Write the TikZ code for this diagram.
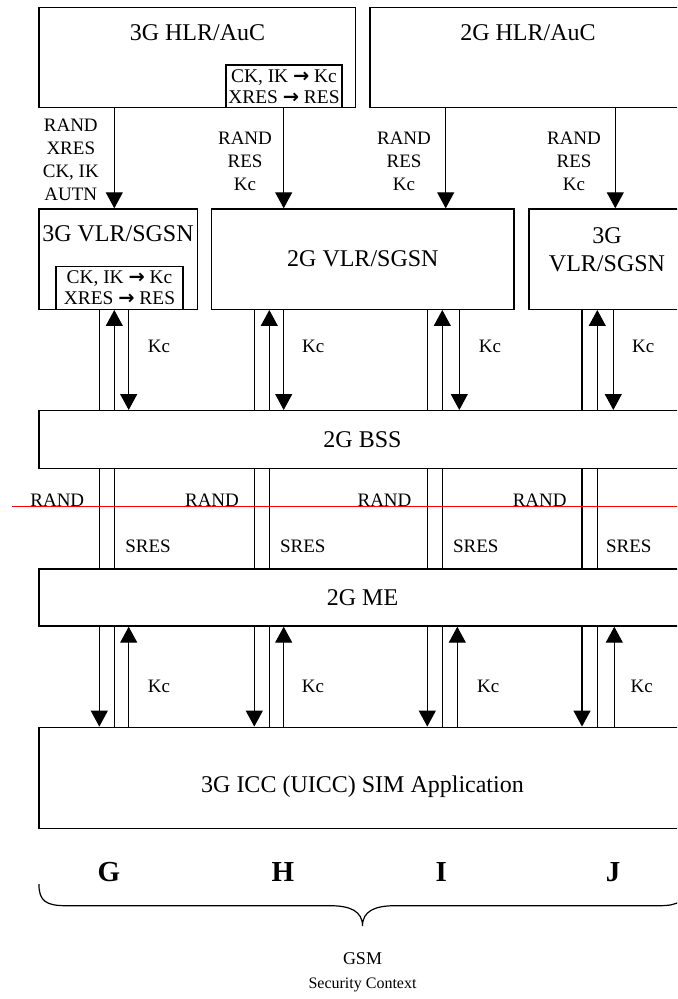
\documentclass[tikz,border=0pt]{standalone}
\usepackage{fontspec}
\setmainfont{Liberation Serif}
\newfontfamily\arrfont{DejaVu Sans}
\usetikzlibrary{arrows.meta}
\begin{document}
\begin{tikzpicture}[x=0.5pt,y=-0.5pt,
  box/.style={draw, line width=0.7pt, inner sep=0pt, rectangle, align=center, font=\fontsize{12}{13.8}\selectfont},
  inbox/.style={draw, line width=0.7pt, inner sep=0pt, rectangle, align=center, font=\fontsize{9.7}{10.5}\selectfont},
  lbl/.style={inner sep=0pt, font=\fontsize{9.5}{11.5}\selectfont, align=center},
  big/.style={inner sep=0pt, font=\fontsize{12}{13.8}\selectfont, align=center},
  letter/.style={inner sep=0pt, font=\fontsize{14.5}{16}\selectfont\bfseries},
  ln/.style={line width=0.6pt},
  arr/.style={line width=0.6pt, -{Triangle[width=8.5pt,length=8pt]}},
]
\useasboundingbox (0,0) rectangle (677,999);
\clip (0,0) rectangle (677,999);

% ---- boxes
\node[box, minimum width=158.35pt, minimum height=50.2pt] (hlr3) at (197.35,57.5) {};
\node[big] (thlr3) at (197.5,33) {3G HLR/AuC};
\node[inbox, minimum width=58pt, minimum height=21.35pt] (hlrin) at (284,86.35) {CK, IK {\arrfont\bfseries→} Kc\\XRES {\arrfont\bfseries→} RES};
\node[box, minimum width=158pt, minimum height=50.2pt] (hlr2) at (528,57.5) {};
\node[big] (thlr2) at (528,33) {2G HLR/AuC};

\node[box, minimum width=79.35pt, minimum height=50.15pt] (vlr3) at (118.35,259.15) {};
\node[big] (tvlr3) at (118,234) {3G VLR/SGSN};
\node[inbox, minimum width=63.5pt, minimum height=21.3pt] (vlrin) at (119.5,288) {CK, IK {\arrfont\bfseries→} Kc\\XRES {\arrfont\bfseries→} RES};
\node[box, minimum width=151.15pt, minimum height=50.15pt] (vlr2) at (362.85,259.15) {2G VLR/SGSN};
\node[box, minimum width=78.5pt, minimum height=50.15pt] (vlr3b) at (607.5,259.15) {};
\node[big] (tvlr3b) at (607,249.5) {3G\\VLR/SGSN};

\node[box, minimum width=323.5pt, minimum height=28.8pt] (bss) at (362.5,439.5) {2G BSS};
\node[box, minimum width=323.5pt, minimum height=28.5pt] (me) at (362.5,597.5) {2G ME};
\node[box, minimum width=323.5pt, minimum height=50.5pt] (icc) at (362.5,777.8) {};
\node[big] (ticc) at (362.5,787) {3G ICC (UICC) SIM Application};

% ---- top arrows
\draw[arr] (hlr3.south -| 114.3,0) -- (vlr3.north -| 114.3,0);
\draw[arr] (hlrin.south -| 283.7,0) -- (vlr2.north -| 283.7,0);
\draw[arr] (hlr2.south -| 445.7,0) -- (vlr2.north -| 445.7,0);
\draw[arr] (hlr2.south -| 615.3,0) -- (vlr3b.north -| 615.3,0);

\node[lbl] (l1) at (70.8,160) {RAND\\XRES\\CK, IK\\AUTN};
\node[lbl] (l2) at (245,161.7) {RAND\\RES\\Kc};
\node[lbl] (l3) at (404,161.7) {RAND\\RES\\Kc};
\node[lbl] (l4) at (574,161.7) {RAND\\RES\\Kc};

% ---- vertical groups
\foreach \a/\b/\c/\d/\v in {99.3/114.3/128.7/128.7/vlr3, 254.3/269.3/283.7/283.7/vlr2, 427.3/442.3/459.3/457.3/vlr2, 582/597.3/613.3/614.3/vlr3b}{
  \draw[ln] (\v.south -| \a,0) -- (bss.north -| \a,0);
  \draw[arr] (bss.north -| \b,0) -- (\v.south -| \b,0);
  \draw[arr] (\v.south -| \c,0) -- (bss.north -| \c,0);
  \draw[ln] (bss.south -| \a,0) -- (me.north -| \a,0);
  \draw[ln] (bss.south -| \b,0) -- (me.north -| \b,0);
  \draw[arr] (me.south -| \a,0) -- (icc.north -| \a,0);
  \draw[ln] (me.south -| \b,0) -- (icc.north -| \b,0);
  \draw[arr] (icc.north -| \d,0) -- (me.south -| \d,0);
}

% ---- labels
\foreach \x [count=\i] in {159,313.3,490,643.3}{ \node[lbl] (kcu\i) at (\x,346.7) {Kc}; }
\foreach \x [count=\i] in {159,313,488.3,641.7}{ \node[lbl] (kcl\i) at (\x,686) {Kc}; }
\foreach \x [count=\i] in {57.3,212,384.5,539.7}{ \node[lbl] (rand\i) at (\x,500) {RAND}; }
\foreach \x [count=\i] in {148,302.8,475.8,628.8}{ \node[lbl] (sres\i) at (\x,546.7) {SRES}; }

% ---- red line
\draw[red, line width=0.75pt] (12.3,506.7) -- (690,506.7);

% ---- letters and brace
\node[letter] (lg) at (109,871.7) {G};
\node[letter] (lh) at (282.8,871.7) {H};
\node[letter] (li) at (441.3,871.7) {I};
\node[letter] (lj) at (613,871.7) {J};

\draw[line width=0.6pt] (38.9,884) .. controls (38.9,901) and (46,905.7) .. (66,905.7)
  -- (330,905.7) .. controls (350,905.7) and (362.5,911) .. (362.5,926)
  .. controls (362.5,911) and (375,905.7) .. (395,905.7)
  -- (659,905.7) .. controls (679,905.7) and (686,901) .. (686,884);

\node[inner sep=0pt, align=center] (gsm) at (362.5,972) {{\fontsize{9}{11.7}\selectfont GSM}\\{\fontsize{8}{11.7}\selectfont Security Context}};
\end{tikzpicture}
\end{document}
